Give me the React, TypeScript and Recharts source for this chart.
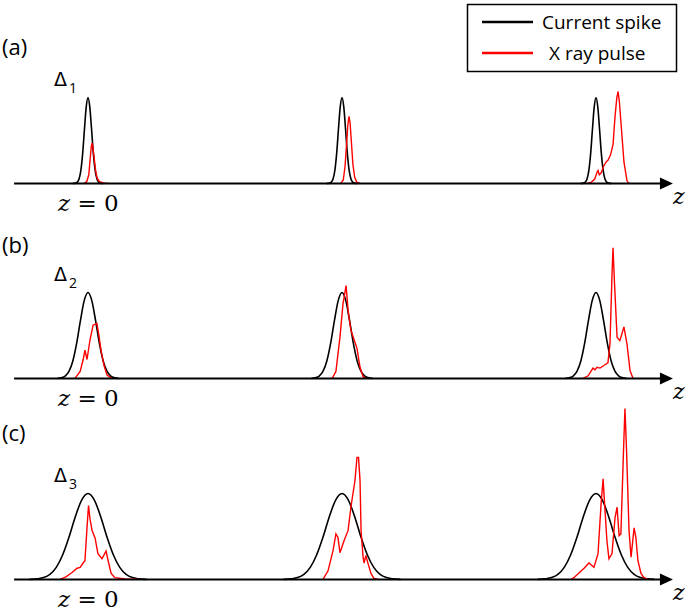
import { LineChart, Line, XAxis, YAxis, ReferenceLine, ReferenceDot } from 'recharts'

// z positions of the three current spikes (arbitrary units)
const spikeCenters = [0, 100, 200]

// current spike profiles per panel: [offset from spike centre, height]
const blackA = [[-6, 0], [-5, 0.003], [-4.2, 0.015], [-3.5, 0.055], [-2.8, 0.155], [-2.1, 0.35], [-1.4, 0.63], [-0.7, 0.89], [0, 1], [0.7, 0.89], [1.4, 0.63], [2.1, 0.35], [2.8, 0.155], [3.5, 0.055], [4.2, 0.015], [5, 0.003], [6, 0]]
const blackB = [[-12, 0], [-10.5, 0.0075], [-9, 0.027], [-7.5, 0.082], [-6, 0.2], [-4.5, 0.405], [-3, 0.67], [-1.5, 0.905], [0, 1], [1.5, 0.905], [3, 0.67], [4.5, 0.405], [6, 0.2], [7.5, 0.082], [9, 0.027], [10.5, 0.0075], [12, 0]]
const blackC = [[-23, 0], [-20, 0.0065], [-17.5, 0.021], [-15, 0.059], [-12.5, 0.14], [-10, 0.284], [-7.5, 0.49], [-5, 0.73], [-2.5, 0.924], [0, 1], [2.5, 0.924], [5, 0.73], [7.5, 0.49], [10, 0.284], [12.5, 0.14], [15, 0.059], [17.5, 0.021], [20, 0.0065], [23, 0]]

// x-ray pulses, one per spike: [offset from spike centre, height]
const redA1 = [[-1.5, 0], [-0.5, 0.02], [0.3, 0.1], [0.9, 0.3], [1.3, 0.43], [1.6, 0.47], [1.9, 0.43], [2.4, 0.3], [3, 0.15], [3.6, 0.06], [4.5, 0.02], [6, 0.005], [8, 0]]
const redA2 = [[-0.5, 0], [0.5, 0.04], [1.2, 0.2], [1.8, 0.46], [2.3, 0.68], [2.75, 0.78], [3.2, 0.7], [3.7, 0.48], [4.3, 0.22], [5, 0.07], [5.8, 0.015], [7, 0]]
const redA3 = [[-3.5, 0], [-2, 0.01], [-0.5, 0.05], [0.4, 0.13], [0.8, 0.15], [1.3, 0.1], [2, 0.12], [3, 0.2], [4, 0.25], [4.7, 0.27], [5.7, 0.33], [6.7, 0.45], [7.5, 0.78], [8.2, 1.0], [8.7, 1.07], [9.2, 0.95], [9.8, 0.72], [11, 0.25], [12.2, 0.03], [13, 0]]

const redB1 = [[-5.1, 0], [-3.1, 0.08], [-1.9, 0.22], [-1.2, 0.33], [-0.4, 0.22], [0.8, 0.45], [2, 0.62], [3.5, 0.64], [4.3, 0.5], [5.1, 0.33], [6.3, 0.15], [7.5, 0.04], [9.4, 0]]
const redB2 = [[-3.9, 0], [-2.4, 0.08], [-0.8, 0.48], [0.4, 0.87], [1.6, 1.08], [2.4, 0.79], [3.5, 0.56], [5.1, 0.42], [5.9, 0.35], [7.1, 0.13], [8.3, 0.02], [9.4, 0]]
const redB3 = [[-5.1, 0], [-3.1, 0.03], [-1.2, 0.12], [-0.4, 0.1], [0.4, 0.13], [1.6, 0.12], [3.1, 0.15], [4.7, 0.18], [5.5, 0.4], [6.3, 1.2], [6.7, 1.52], [7.3, 1.1], [8.3, 0.48], [9.4, 0.44], [11, 0.6], [12.2, 0.4], [13.4, 0.09], [14.6, 0]]

const redC1 = [[-11, 0], [-8.7, 0.03], [-6.3, 0.08], [-4.3, 0.13], [-3.1, 0.14], [-1.2, 0.22], [-0.4, 0.6], [0.2, 0.86], [0.8, 0.7], [1.6, 0.57], [2.8, 0.48], [3.9, 0.3], [5.5, 0.24], [7.1, 0.33], [7.9, 0.22], [9.1, 0.07], [10.6, 0.02], [14.6, 0.005], [20.5, 0]]
const redC2 = [[-7.5, 0], [-5.5, 0.1], [-3.5, 0.34], [-2.4, 0.53], [-1.6, 0.49], [-0.8, 0.31], [0.8, 0.45], [2.4, 0.57], [3.5, 0.84], [5.1, 1.15], [5.9, 1.42], [6.5, 1.42], [7.1, 1.15], [7.5, 0.57], [8.3, 0.26], [8.7, 0.19], [9.4, 0.28], [10.2, 0.19], [11.4, 0.07], [12.6, 0.01], [14.6, 0]]
const redC3 = [[-9.8, 0], [-8.7, 0.02], [-4.7, 0.13], [-2.8, 0.19], [-0.8, 0.14], [0.8, 0.3], [2, 0.88], [2.8, 1.17], [3.3, 0.92], [4.3, 0.45], [5.1, 0.24], [6.3, 0.3], [7.5, 0.72], [8.3, 0.84], [9.1, 0.51], [9.8, 0.53], [10.8, 1.47], [11.4, 1.99], [12, 1.53], [13, 0.57], [13.8, 0.26], [15, 0.6], [15.7, 0.49], [16.5, 0.22], [17.7, 0.07], [18.9, 0.02], [20.5, 0]]

const panelLabels = ['(a)', '(b)', '(c)']
const deltaSubs = ['1', '2', '3']
const legendItems = [
  { name: 'Current spike', color: '#000' },
  { name: 'X ray pulse', color: '#ff0000' },
]

const W = 685
const H = 614
const Z_MIN = -34.65
const Z_MAX = 235.04
const AXIS_START = -29.1
const ARROW_BASE = 225.6
const ARROW_TIP = 230.3
const CHART_H = 189

const panels = [
  { top: 3, black: blackA, reds: [redA1, redA2, redA3] },
  { top: 198, black: blackB, reds: [redB1, redB2, redB3] },
  { top: 399, black: blackC, reds: [redC1, redC2, redC3] },
]

const toPoints = (profile: number[][], centre: number) =>
  profile.map(([dz, v]) => ({ z: centre + dz, v }))

const arrowHead = (p: any) => (
  <path d={`M${p.cx - 13},${p.cy - 6} L${p.cx},${p.cy} L${p.cx - 13},${p.cy + 6} Z`} fill="#000" />
)

function Panel({ top, black, reds }: { top: number; black: number[][]; reds: number[][][] }) {
  return (
    <div style={{ position: 'absolute', left: 0, top }}>
      <LineChart width={W} height={CHART_H} margin={{ top: 0, right: 0, bottom: 0, left: 0 }}>
        <XAxis type="number" dataKey="z" domain={[Z_MIN, Z_MAX]} allowDataOverflow hide />
        <YAxis type="number" domain={[-0.1, 2.1]} allowDataOverflow hide />
        {spikeCenters.map((c, i) => (
          <Line
            key={`b${i}`}
            data={toPoints(black, c)}
            dataKey="v"
            type="monotone"
            stroke="#000"
            strokeWidth={1.6}
            dot={false}
            isAnimationActive={false}
          />
        ))}
        {reds.map((r, i) => (
          <Line
            key={`r${i}`}
            data={toPoints(r, spikeCenters[i])}
            dataKey="v"
            type="linear"
            stroke="#ff0000"
            strokeWidth={1.4}
            dot={false}
            isAnimationActive={false}
          />
        ))}
        <ReferenceLine
          segment={[{ x: AXIS_START, y: 0 }, { x: ARROW_BASE, y: 0 }]}
          stroke="#000"
          strokeWidth={2}
        />
        <ReferenceDot x={ARROW_TIP} y={0} r={1} shape={arrowHead} />
      </LineChart>
    </div>
  )
}

export default function App() {
  const sans = '"Open Sans", sans-serif'
  const serif = '"DejaVu Serif", serif'
  const axisYs = [183, 378, 579]
  const labelYs = [55, 253, 441]
  return (
    <div style={{ position: 'absolute', left: 0, top: 0, width: W, height: H, background: '#fff' }}>
      {panels.map((p, i) => (
        <Panel key={i} top={p.top} black={p.black} reds={p.reds} />
      ))}
      <svg width={W} height={H} style={{ position: 'absolute', left: 0, top: 0, pointerEvents: 'none' }}>
        {panelLabels.map((l, i) => (
          <text key={l} x={2} y={labelYs[i]} fontFamily={sans} fontSize={22} fill="#000">
            {l}
          </text>
        ))}
        {deltaSubs.map((s, i) => (
          <g key={s}>
            <text x={54} y={axisYs[i] - 97} fontFamily='"DejaVu Sans", sans-serif' fontSize={19} fill="#000">Δ</text>
            <text x={69} y={axisYs[i] - 90} fontFamily={sans} fontSize={14} fill="#000">{s}</text>
            <text x={58} y={axisYs[i] + 28} fontFamily={serif} fontSize={23} fill="#000">
              <tspan fontStyle="italic">z</tspan> = 0
            </text>
            <text x={673} y={axisYs[i] + 21} fontFamily={serif} fontSize={22} fontStyle="italic" fill="#000">z</text>
          </g>
        ))}
        <rect x={467.5} y={4.5} width={209} height={67} fill="#fff" stroke="#000" strokeWidth={1.5} />
        {legendItems.map((it, i) => (
          <g key={it.name}>
            <line x1={482} x2={533} y1={22 + i * 31} y2={22 + i * 31} stroke={it.color} strokeWidth={2.5} />
            <text
              x={i === 0 ? 542 : 549}
              y={22 + i * 31 + 7}
              fontFamily={sans}
              fontSize={19}
              fill="#000"
            >
              {it.name}
            </text>
          </g>
        ))}
      </svg>
    </div>
  )
}
